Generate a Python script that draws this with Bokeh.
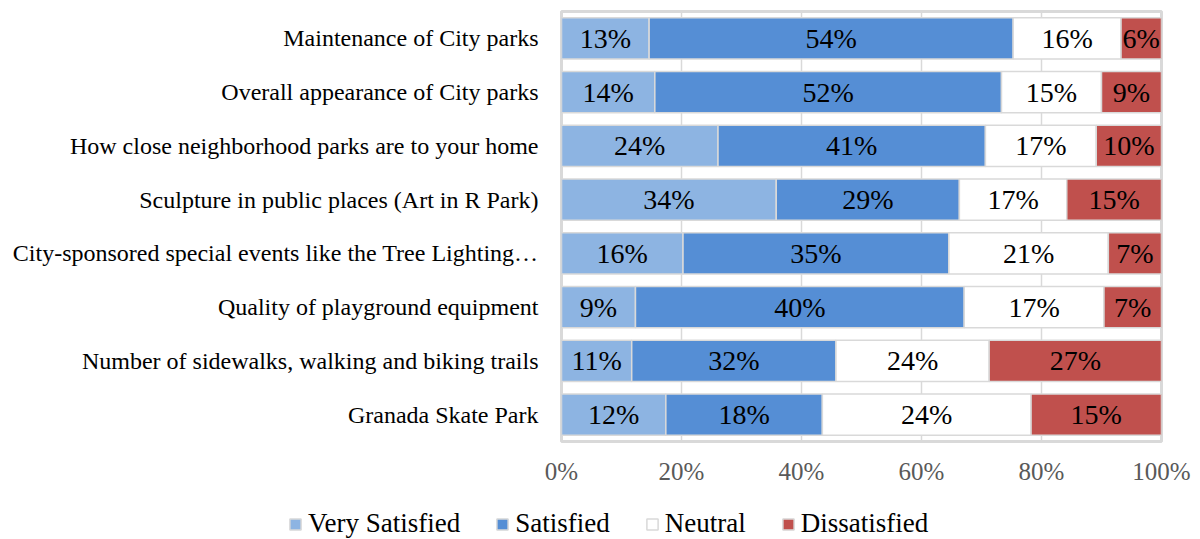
from bokeh.plotting import figure
from bokeh.layouts import column, row
from bokeh.models import ColumnDataSource, FactorRange, Range1d, FixedTicker, NumeralTickFormatter, Legend, LegendItem
from bokeh.core.properties import value
from bokeh.embed import file_html
from bokeh.resources import INLINE

categories = [
    "Maintenance of City parks",
    "Overall appearance of City parks",
    "How close neighborhood parks are to your home",
    "Sculpture in public places (Art in R Park)",
    "City-sponsored special events like the Tree Lighting\u2026",
    "Quality of playground equipment",
    "Number of sidewalks, walking and biking trails",
    "Granada Skate Park",
]
series = ["Very Satisfied", "Satisfied", "Neutral", "Dissatisfied"]
very_satisfied = [13, 14, 24, 34, 16, 9, 11, 12]
satisfied = [54, 52, 41, 29, 35, 40, 32, 18]
neutral = [16, 15, 17, 17, 21, 17, 24, 24]
dissatisfied = [6, 9, 10, 15, 7, 7, 27, 15]
colors = ["#8DB4E2", "#558ED5", "#FFFFFF", "#C0504D"]
x_ticks = [0, 0.2, 0.4, 0.6, 0.8, 1.0]

FONT = "Liberation Serif"
W = 1192

values_by_series = [very_satisfied, satisfied, neutral, dissatisfied]
totals = [sum(v[i] for v in values_by_series) for i in range(len(categories))]

p = figure(width=W, height=495,
           y_range=FactorRange(factors=list(reversed(categories))),
           x_range=Range1d(0, 1),
           output_backend="svg", toolbar_location=None,
           min_border_left=561, min_border_right=W - 1161,
           min_border_top=11, min_border_bottom=54)

cum = [0.0] * len(categories)
for name, vals, col in zip(series, values_by_series, colors):
    left = list(cum)
    right = [cum[i] + vals[i] / totals[i] for i in range(len(categories))]
    mid = [(l + r) / 2 for l, r in zip(left, right)]
    src = ColumnDataSource(dict(y=categories, left=left, right=right, mid=mid,
                                lab=[f"{v}%" for v in vals]))
    p.hbar(y="y", left="left", right="right", height=0.77, source=src,
           fill_color=col, line_color="#D9D9D9", line_width=1.5)
    p.text(x="mid", y="y", text="lab", source=src, text_align="center",
           text_baseline="middle", text_font=value(FONT),
           text_font_size="28px", text_color="#000000")
    cum = right

p.xaxis.ticker = FixedTicker(ticks=x_ticks)
p.xaxis.formatter = NumeralTickFormatter(format="0%")
p.xaxis.axis_line_color = None
p.xaxis.major_tick_line_color = None
p.xaxis.minor_tick_line_color = None
p.xaxis.major_label_text_font = FONT
p.xaxis.major_label_text_font_size = "25px"
p.xaxis.major_label_text_color = "#595959"
p.xaxis.major_label_standoff = 10

p.yaxis.axis_line_color = None
p.yaxis.major_tick_line_color = None
p.yaxis.minor_tick_line_color = None
p.yaxis.major_label_text_font = FONT
p.yaxis.major_label_text_font_size = "24px"
p.yaxis.major_label_text_color = "#000000"
p.yaxis.major_label_standoff = 17

p.xgrid.grid_line_color = "#D9D9D9"
p.xgrid.grid_line_width = 1.5
p.xgrid.ticker = FixedTicker(ticks=x_ticks)
p.ygrid.grid_line_color = None

p.outline_line_color = "#D9D9D9"
p.outline_line_width = 3

# Legend strip below the chart
lg = figure(width=W, height=44, frame_width=W, frame_height=44,
            x_range=Range1d(0, 1), y_range=Range1d(0, 1),
            output_backend="svg", toolbar_location=None,
            x_axis_type=None, y_axis_type=None,
            min_border_left=0, min_border_right=0, min_border_top=0, min_border_bottom=0)
lg.outline_line_color = None
lg.border_fill_color = "white"
lg.xgrid.visible = False
lg.ygrid.visible = False
items = []
for name, col in zip(series, colors):
    # zero-size swatch glyph: only its legend entry is visible
    r = lg.hbar(y=[0.5], left=[0.5], right=[0.5], height=0,
                fill_color=col, line_color="#D9D9D9", line_width=1.5)
    items.append(LegendItem(label=name, renderers=[r]))
legend = Legend(items=items, orientation="horizontal", location=(288, 0),
                glyph_width=14, glyph_height=14, label_standoff=6, spacing=35,
                padding=0, margin=0, border_line_color=None,
                background_fill_alpha=0,
                label_text_font=FONT, label_text_font_size="27px",
                label_text_color="#000000")
lg.add_layout(legend, "center")

layout = column(p, row(lg), spacing=0)
open("out.html", "w").write(file_html(layout, INLINE))
